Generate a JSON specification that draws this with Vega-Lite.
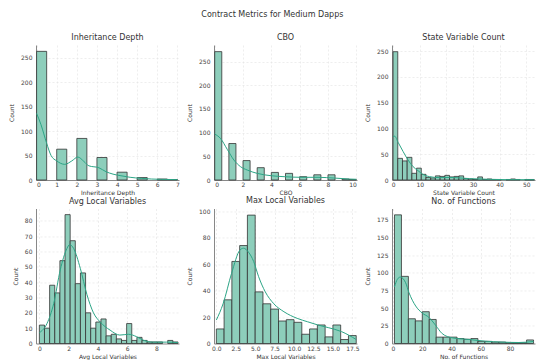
{
  "$schema": "https://vega.github.io/schema/vega-lite/v6.json",
  "background": "white",
  "padding": {"left": 8, "top": 11, "right": 1, "bottom": 1},
  "title": {"text": "Contract Metrics for Medium Dapps", "fontSize": 8, "fontWeight": "normal", "color": "#333333", "anchor": "middle", "offset": 15},
  "datasets": {
    "b1": [
      {"start": 0, "end": 0.5, "count": 263}, {"start": 1, "end": 1.5, "count": 63}, {"start": 2, "end": 2.5, "count": 85},
      {"start": 3, "end": 3.5, "count": 46}, {"start": 4, "end": 4.5, "count": 16}, {"start": 5, "end": 5.5, "count": 5},
      {"start": 6, "end": 6.5, "count": 2}, {"start": 6.5, "end": 7, "count": 1}
    ],
    "k1": [
      {"x": 0, "y": 136}, {"x": 0.22, "y": 113}, {"x": 0.5, "y": 75}, {"x": 0.72, "y": 50}, {"x": 1.0, "y": 39},
      {"x": 1.4, "y": 32}, {"x": 1.75, "y": 39}, {"x": 2.05, "y": 47}, {"x": 2.35, "y": 38}, {"x": 2.6, "y": 29},
      {"x": 3.1, "y": 25}, {"x": 3.45, "y": 17}, {"x": 3.8, "y": 12}, {"x": 4.15, "y": 9}, {"x": 4.65, "y": 5.5},
      {"x": 5.2, "y": 3.4}, {"x": 5.7, "y": 2}, {"x": 6.2, "y": 1.4}, {"x": 7, "y": 0.7}
    ],
    "b2": [
      {"start": 0, "end": 0.5, "count": 271}, {"start": 1, "end": 1.5, "count": 77}, {"start": 2, "end": 2.5, "count": 41},
      {"start": 3, "end": 3.5, "count": 26}, {"start": 4, "end": 4.5, "count": 16}, {"start": 5, "end": 5.5, "count": 14},
      {"start": 6, "end": 6.5, "count": 7}, {"start": 7, "end": 7.5, "count": 11}, {"start": 8, "end": 8.5, "count": 11},
      {"start": 9, "end": 9.5, "count": 2}, {"start": 9.5, "end": 10, "count": 1}
    ],
    "k2": [
      {"x": 0, "y": 97}, {"x": 0.4, "y": 88}, {"x": 0.9, "y": 64}, {"x": 1.36, "y": 42}, {"x": 1.83, "y": 28},
      {"x": 2.3, "y": 21}, {"x": 3.0, "y": 14}, {"x": 4.0, "y": 9}, {"x": 4.9, "y": 7}, {"x": 6.1, "y": 5.7},
      {"x": 7.3, "y": 5.7}, {"x": 8.5, "y": 4}, {"x": 9.5, "y": 2}, {"x": 10, "y": 1.5}
    ],
    "b3": [
      {"start": 0, "end": 1.767, "count": 249}, {"start": 1.767, "end": 3.533, "count": 42}, {"start": 3.533, "end": 5.3, "count": 37},
      {"start": 5.3, "end": 7.067, "count": 44}, {"start": 7.067, "end": 8.833, "count": 13}, {"start": 8.833, "end": 10.6, "count": 23},
      {"start": 10.6, "end": 12.367, "count": 11}, {"start": 12.367, "end": 14.133, "count": 5}, {"start": 14.133, "end": 15.9, "count": 4},
      {"start": 15.9, "end": 17.667, "count": 8}, {"start": 17.667, "end": 19.433, "count": 7}, {"start": 19.433, "end": 21.2, "count": 9},
      {"start": 21.2, "end": 22.967, "count": 6}, {"start": 22.967, "end": 24.733, "count": 7}, {"start": 24.733, "end": 26.5, "count": 8},
      {"start": 26.5, "end": 28.267, "count": 3}, {"start": 28.267, "end": 30.033, "count": 2}, {"start": 30.033, "end": 31.8, "count": 1},
      {"start": 31.8, "end": 33.567, "count": 6}, {"start": 33.567, "end": 35.333, "count": 1}, {"start": 35.333, "end": 37.1, "count": 2},
      {"start": 37.1, "end": 38.867, "count": 1}, {"start": 38.867, "end": 40.633, "count": 1}, {"start": 42.4, "end": 44.167, "count": 1},
      {"start": 44.167, "end": 45.933, "count": 2}, {"start": 45.933, "end": 47.7, "count": 1}, {"start": 49.467, "end": 51.233, "count": 1},
      {"start": 51.233, "end": 53, "count": 1}
    ],
    "k3": [
      {"x": 0, "y": 84}, {"x": 0.6, "y": 85}, {"x": 1.9, "y": 73}, {"x": 3.8, "y": 55}, {"x": 5.6, "y": 39},
      {"x": 7.5, "y": 26}, {"x": 9.4, "y": 18}, {"x": 11.2, "y": 11}, {"x": 13.7, "y": 6.5}, {"x": 17.5, "y": 4.6},
      {"x": 21.2, "y": 5}, {"x": 25, "y": 4}, {"x": 28.7, "y": 2.6}, {"x": 32.5, "y": 2}, {"x": 36.2, "y": 1.3},
      {"x": 42.4, "y": 0.7}, {"x": 53, "y": 0.6}
    ],
    "b4": [
      {"start": 0, "end": 0.351, "count": 12}, {"start": 0.351, "end": 0.702, "count": 10}, {"start": 0.702, "end": 1.053, "count": 38},
      {"start": 1.053, "end": 1.404, "count": 33}, {"start": 1.404, "end": 1.756, "count": 54}, {"start": 1.756, "end": 2.107, "count": 84},
      {"start": 2.107, "end": 2.458, "count": 67}, {"start": 2.458, "end": 2.809, "count": 39}, {"start": 2.809, "end": 3.16, "count": 46},
      {"start": 3.16, "end": 3.511, "count": 20}, {"start": 3.511, "end": 3.862, "count": 10}, {"start": 3.862, "end": 4.213, "count": 14},
      {"start": 4.213, "end": 4.564, "count": 16}, {"start": 4.564, "end": 4.916, "count": 5}, {"start": 4.916, "end": 5.267, "count": 6},
      {"start": 5.267, "end": 5.618, "count": 3}, {"start": 5.618, "end": 5.969, "count": 2}, {"start": 5.969, "end": 6.32, "count": 13},
      {"start": 6.32, "end": 6.671, "count": 2}, {"start": 6.671, "end": 7.022, "count": 4}, {"start": 7.022, "end": 7.373, "count": 2},
      {"start": 7.373, "end": 7.724, "count": 1}, {"start": 7.724, "end": 8.076, "count": 1}, {"start": 8.076, "end": 8.427, "count": 1},
      {"start": 8.778, "end": 9.129, "count": 2}, {"start": 9.129, "end": 9.48, "count": 1}
    ],
    "k4": [
      {"x": 0, "y": 7}, {"x": 0.52, "y": 13}, {"x": 0.98, "y": 26}, {"x": 1.43, "y": 48}, {"x": 1.89, "y": 62},
      {"x": 2.07, "y": 64.5}, {"x": 2.34, "y": 62}, {"x": 2.8, "y": 49}, {"x": 3.25, "y": 32}, {"x": 3.7, "y": 20},
      {"x": 4.16, "y": 14}, {"x": 4.84, "y": 8.7}, {"x": 5.5, "y": 5.5}, {"x": 6.1, "y": 6}, {"x": 6.66, "y": 4.4},
      {"x": 7.1, "y": 2.2}, {"x": 7.8, "y": 0.9}, {"x": 8.7, "y": 0.9}, {"x": 9.48, "y": 0.6}
    ],
    "b5": [
      {"start": 0, "end": 1, "count": 11}, {"start": 1, "end": 2, "count": 33}, {"start": 2, "end": 3, "count": 62},
      {"start": 3, "end": 4, "count": 74}, {"start": 4, "end": 5, "count": 97}, {"start": 5, "end": 6, "count": 39},
      {"start": 6, "end": 7, "count": 30}, {"start": 7, "end": 8, "count": 26}, {"start": 8, "end": 9, "count": 17},
      {"start": 9, "end": 10, "count": 18}, {"start": 10, "end": 11, "count": 16}, {"start": 11, "end": 12, "count": 7},
      {"start": 12, "end": 13, "count": 11}, {"start": 13, "end": 14, "count": 14}, {"start": 14, "end": 15, "count": 5},
      {"start": 15, "end": 16, "count": 14}, {"start": 16, "end": 17, "count": 3}, {"start": 17, "end": 18, "count": 6}
    ],
    "k5": [
      {"x": 0, "y": 17.7}, {"x": 0.87, "y": 30}, {"x": 1.96, "y": 53}, {"x": 3.05, "y": 70.7}, {"x": 3.5, "y": 72},
      {"x": 4.14, "y": 69}, {"x": 4.8, "y": 62}, {"x": 5.44, "y": 50.5}, {"x": 6.3, "y": 39}, {"x": 7.4, "y": 30},
      {"x": 8.7, "y": 24}, {"x": 10.4, "y": 19}, {"x": 11.75, "y": 16.4}, {"x": 13.06, "y": 14}, {"x": 14.4, "y": 12},
      {"x": 16.1, "y": 9}, {"x": 18, "y": 3}
    ],
    "b6": [
      {"start": 1, "end": 5.75, "count": 182}, {"start": 5.75, "end": 10.5, "count": 95}, {"start": 10.5, "end": 15.25, "count": 35},
      {"start": 15.25, "end": 20, "count": 32}, {"start": 20, "end": 24.75, "count": 45}, {"start": 24.75, "end": 29.5, "count": 34},
      {"start": 29.5, "end": 34.25, "count": 9}, {"start": 34.25, "end": 39, "count": 9}, {"start": 39, "end": 43.75, "count": 9},
      {"start": 43.75, "end": 48.5, "count": 7}, {"start": 48.5, "end": 53.25, "count": 6}, {"start": 53.25, "end": 58, "count": 7},
      {"start": 58, "end": 62.75, "count": 3}, {"start": 62.75, "end": 67.5, "count": 3}, {"start": 67.5, "end": 72.25, "count": 2},
      {"start": 72.25, "end": 77, "count": 2}, {"start": 77, "end": 81.75, "count": 1}, {"start": 81.75, "end": 86.5, "count": 1},
      {"start": 86.5, "end": 91.25, "count": 1}, {"start": 91.25, "end": 96, "count": 5}
    ],
    "k6": [
      {"x": 1, "y": 80}, {"x": 3, "y": 91}, {"x": 5, "y": 94}, {"x": 8.6, "y": 86}, {"x": 10.9, "y": 72},
      {"x": 15.5, "y": 53}, {"x": 20, "y": 43}, {"x": 24.5, "y": 37}, {"x": 29, "y": 26}, {"x": 33.6, "y": 14},
      {"x": 40.5, "y": 8}, {"x": 52, "y": 5.7}, {"x": 63, "y": 3.3}, {"x": 74.5, "y": 2}, {"x": 86, "y": 1.4},
      {"x": 96, "y": 2.8}
    ]
  },
  "vconcat": [
    {
      "bounds": "flush",
      "spacing": 35,
      "hconcat": [
        {
          "width": 143, "height": 135, "title": "Inheritance Depth",
          "layer": [
            {"data": {"name": "b1"}, "mark": {"type": "bar", "fill": "#8dcebb", "stroke": "#333333", "strokeWidth": 0.8},
             "encoding": {
               "x": {"field": "start", "type": "quantitative", "scale": {"domain": [-0.03, 7.08], "nice": false, "zero": false}, "axis": {"values": [0,1,2,3,4,5,6,7], "title": "Inheritance Depth"}},
               "x2": {"field": "end"},
               "y": {"field": "count", "type": "quantitative", "scale": {"domain": [0, 276], "nice": false}, "axis": {"values": [0,50,100,150,200,250], "title": "Count"}},
               "y2": {"datum": 0}}},
            {"data": {"name": "k1"}, "mark": {"type": "line", "color": "#2ca586", "strokeWidth": 1, "interpolate": "monotone"},
             "encoding": {"x": {"field": "x", "type": "quantitative", "axis": {"values": [0,1,2,3,4,5,6,7], "title": "Inheritance Depth"}}, "y": {"field": "y", "type": "quantitative", "axis": {"values": [0,50,100,150,200,250], "title": "Count"}}}}
          ]
        },
        {
          "width": 143, "height": 135, "title": "CBO",
          "layer": [
            {"data": {"name": "b2"}, "mark": {"type": "bar", "fill": "#8dcebb", "stroke": "#333333", "strokeWidth": 0.8},
             "encoding": {
               "x": {"field": "start", "type": "quantitative", "scale": {"domain": [-0.05, 10.05], "nice": false, "zero": false}, "axis": {"values": [0,2,4,6,8,10], "title": "CBO"}},
               "x2": {"field": "end"},
               "y": {"field": "count", "type": "quantitative", "scale": {"domain": [0, 285], "nice": false}, "axis": {"values": [0,50,100,150,200,250], "title": "Count"}},
               "y2": {"datum": 0}}},
            {"data": {"name": "k2"}, "mark": {"type": "line", "color": "#2ca586", "strokeWidth": 1, "interpolate": "monotone"},
             "encoding": {"x": {"field": "x", "type": "quantitative", "axis": {"values": [0,2,4,6,8,10], "title": "CBO"}}, "y": {"field": "y", "type": "quantitative", "axis": {"values": [0,50,100,150,200,250], "title": "Count"}}}}
          ]
        },
        {
          "width": 143, "height": 135, "title": "State Variable Count",
          "layer": [
            {"data": {"name": "b3"}, "mark": {"type": "bar", "fill": "#8dcebb", "stroke": "#333333", "strokeWidth": 0.8},
             "encoding": {
               "x": {"field": "start", "type": "quantitative", "scale": {"domain": [-0.4, 53.3], "nice": false, "zero": false}, "axis": {"values": [0,10,20,30,40,50], "title": "State Variable Count"}},
               "x2": {"field": "end"},
               "y": {"field": "count", "type": "quantitative", "scale": {"domain": [0, 262], "nice": false}, "axis": {"values": [0,50,100,150,200,250], "title": "Count"}},
               "y2": {"datum": 0}}},
            {"data": {"name": "k3"}, "mark": {"type": "line", "color": "#2ca586", "strokeWidth": 1, "interpolate": "monotone"},
             "encoding": {"x": {"field": "x", "type": "quantitative", "axis": {"values": [0,10,20,30,40,50], "title": "State Variable Count"}}, "y": {"field": "y", "type": "quantitative", "axis": {"values": [0,50,100,150,200,250], "title": "Count"}}}}
          ]
        }
      ]
    },
    {
      "bounds": "flush",
      "spacing": 35,
      "hconcat": [
        {
          "width": 143, "height": 135, "title": "Avg Local Variables",
          "layer": [
            {"data": {"name": "b4"}, "mark": {"type": "bar", "fill": "#8dcebb", "stroke": "#333333", "strokeWidth": 0.8},
             "encoding": {
               "x": {"field": "start", "type": "quantitative", "scale": {"domain": [-0.23, 9.55], "nice": false, "zero": false}, "axis": {"values": [0,2,4,6,8], "title": "Avg Local Variables"}},
               "x2": {"field": "end"},
               "y": {"field": "count", "type": "quantitative", "scale": {"domain": [0, 88], "nice": false}, "axis": {"values": [0,10,20,30,40,50,60,70,80], "title": "Count"}},
               "y2": {"datum": 0}}},
            {"data": {"name": "k4"}, "mark": {"type": "line", "color": "#2ca586", "strokeWidth": 1, "interpolate": "monotone"},
             "encoding": {"x": {"field": "x", "type": "quantitative", "axis": {"values": [0,2,4,6,8], "title": "Avg Local Variables"}}, "y": {"field": "y", "type": "quantitative", "axis": {"values": [0,10,20,30,40,50,60,70,80], "title": "Count"}}}}
          ]
        },
        {
          "width": 143, "height": 135, "title": "Max Local Variables",
          "layer": [
            {"data": {"name": "b5"}, "mark": {"type": "bar", "fill": "#8dcebb", "stroke": "#333333", "strokeWidth": 0.8},
             "encoding": {
               "x": {"field": "start", "type": "quantitative", "scale": {"domain": [-0.3, 18.1], "nice": false, "zero": false}, "axis": {"values": [0,2.5,5,7.5,10,12.5,15,17.5], "format": ".1f", "title": "Max Local Variables"}},
               "x2": {"field": "end"},
               "y": {"field": "count", "type": "quantitative", "scale": {"domain": [0, 102], "nice": false}, "axis": {"values": [0,20,40,60,80,100], "title": "Count"}},
               "y2": {"datum": 0}}},
            {"data": {"name": "k5"}, "mark": {"type": "line", "color": "#2ca586", "strokeWidth": 1, "interpolate": "monotone"},
             "encoding": {"x": {"field": "x", "type": "quantitative", "axis": {"values": [0,2.5,5,7.5,10,12.5,15,17.5], "format": ".1f", "title": "Max Local Variables"}}, "y": {"field": "y", "type": "quantitative", "axis": {"values": [0,20,40,60,80,100], "title": "Count"}}}}
          ]
        },
        {
          "width": 143, "height": 135, "title": "No. of Functions",
          "layer": [
            {"data": {"name": "b6"}, "mark": {"type": "bar", "fill": "#8dcebb", "stroke": "#333333", "strokeWidth": 0.8},
             "encoding": {
               "x": {"field": "start", "type": "quantitative", "scale": {"domain": [-0.7, 97], "nice": false, "zero": false}, "axis": {"values": [0,20,40,60,80], "title": "No. of Functions"}},
               "x2": {"field": "end"},
               "y": {"field": "count", "type": "quantitative", "scale": {"domain": [0, 191], "nice": false}, "axis": {"values": [0,25,50,75,100,125,150,175], "title": "Count"}},
               "y2": {"datum": 0}}},
            {"data": {"name": "k6"}, "mark": {"type": "line", "color": "#2ca586", "strokeWidth": 1, "interpolate": "monotone"},
             "encoding": {"x": {"field": "x", "type": "quantitative", "axis": {"values": [0,20,40,60,80], "title": "No. of Functions"}}, "y": {"field": "y", "type": "quantitative", "axis": {"values": [0,25,50,75,100,125,150,175], "title": "Count"}}}}
          ]
        }
      ]
    }
  ],
  "spacing": 0.5,
  "config": {
    "font": "DejaVu Sans",
    "view": {"stroke": null},
    "axis": {
      "labelFontSize": 6, "titleFontSize": 6, "labelColor": "#444444", "titleColor": "#333333", "titleFontWeight": "normal",
      "gridColor": "#e3e3e3", "gridDash": [2, 2], "gridWidth": 0.6, "domainColor": "#888888", "domainWidth": 1,
      "ticks": false, "labelPadding": 1.5, "titlePadding": 2
    },
    "axisY": {"labelPadding": 4, "titlePadding": 6},
    "title": {"fontSize": 8, "fontWeight": "normal", "color": "#333333", "offset": 3}
  }
}
